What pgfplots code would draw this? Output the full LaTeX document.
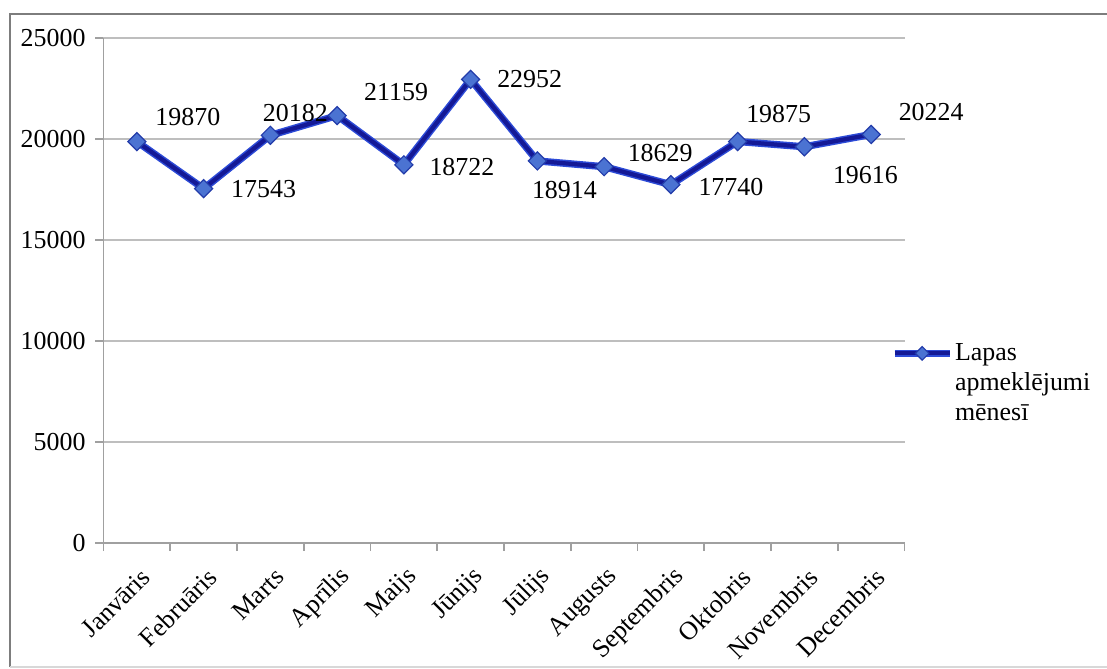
\documentclass[border=0pt]{standalone}
\usepackage{pgfplots}
\pgfplotsset{compat=1.18}
\usepackage{pgfplotstable}
\usepackage{fontspec}
\setmainfont{Liberation Serif}

\definecolor{linedark}{RGB}{20,25,150}
\definecolor{lineedge}{RGB}{45,75,215}
\definecolor{markfill}{RGB}{75,115,210}
\definecolor{markdraw}{RGB}{35,60,170}
\definecolor{gridgray}{RGB}{190,190,190}
\definecolor{axisgray}{RGB}{160,160,160}
\definecolor{framegray}{RGB}{125,125,125}

% page visits per month
\pgfplotstableread{
x y
0 19870
1 17543
2 20182
3 21159
4 18722
5 22952
6 18914
7 18629
8 17740
9 19875
10 19616
11 20224
}\visits

\begin{document}
\begin{tikzpicture}[font=\fontsize{13}{15}\selectfont]
\useasboundingbox (-51.75bp,-63bp) rectangle (501.75bp,271.5bp);
\draw[framegray, line width=1bp] (-46.75bp,-62bp) -- (-46.75bp,264.5bp) -- (505bp,264.5bp);
\draw[framegray!30, line width=0.8bp] (-46.75bp,-62bp) -- (505bp,-62bp);
\begin{axis}[
  scale only axis,
  width=400.5bp, height=252.5bp,
  xmin=-0.5, xmax=11.5,
  ymin=0, ymax=25000,
  axis x line*=bottom, axis y line*=left,
  axis line style={draw=axisgray, line width=0.8bp},
  ymajorgrids, grid style={draw=gridgray, line width=0.8bp},
  tick align=outside, major tick length=4bp, minor tick length=4bp,
  ytick={0,5000,...,25000},
  scaled y ticks=false,
  yticklabel style={/pgf/number format/1000 sep={}, /pgf/number format/assume math mode=true, xshift=-1.5bp},
  ytick style={draw=axisgray, line width=0.8bp},
  xtick={0,...,11},
  xticklabels={Janvāris,Februāris,Marts,Aprīlis,Maijs,Jūnijs,Jūlijs,Augusts,Septembris,Oktobris,Novembris,Decembris},
  xticklabel style={rotate=45, anchor=east, xshift=-1bp, yshift=-11bp},
  xtick style={draw=none},
  minor xtick={-0.5,0.5,...,11.5},
  minor x tick style={draw=axisgray, line width=0.8bp},
  clip=false,
  legend style={draw=none, fill=none, at={(0.983,0.40)}, anchor=north west, inner sep=0pt, nodes={inner sep=1bp}},
  legend cell align=left,
  legend image code/.code={
    \draw[lineedge, line width=3.4bp] (0bp,0bp) -- (27.5bp,0bp);
    \draw[mark repeat=2, mark phase=2, #1, mark size=2.4bp] plot coordinates {(0bp,0bp) (13.75bp,0bp) (27.5bp,0bp)};
  },
]
\addplot[lineedge, line width=3.6bp, forget plot] table {\visits};
\addplot[linedark, line width=2.1bp, mark=square*, mark size=3.2bp,
  mark options={rotate=45, fill=markfill, draw=markdraw, line width=0.6bp}] table {\visits};
\addlegendentry{\parbox[t]{80bp}{\baselineskip=15bp Lapas\\apmeklējumi\\mēnesī}}

\node at (axis cs:0,19870) [xshift=25.5bp, yshift=12.3bp] {19870};
\node at (axis cs:1,17543) [xshift=30bp, yshift=0bp] {17543};
\node at (axis cs:2,20182) [xshift=12.5bp, yshift=11bp] {20182};
\node at (axis cs:3,21159) [xshift=29.5bp, yshift=12bp] {21159};
\node at (axis cs:4,18722) [xshift=29bp, yshift=-1bp] {18722};
\node at (axis cs:5,22952) [xshift=29.5bp, yshift=0bp] {22952};
\node at (axis cs:6,18914) [xshift=13.5bp, yshift=-14.5bp] {18914};
\node at (axis cs:7,18629) [xshift=28bp, yshift=7bp] {18629};
\node at (axis cs:8,17740) [xshift=30bp, yshift=-1bp] {17740};
\node at (axis cs:9,19875) [xshift=20.5bp, yshift=14bp] {19875};
\node at (axis cs:10,19616) [xshift=30.5bp, yshift=-14bp] {19616};
\node at (axis cs:11,20224) [xshift=30bp, yshift=11bp] {20224};
\end{axis}
\end{tikzpicture}
\end{document}
